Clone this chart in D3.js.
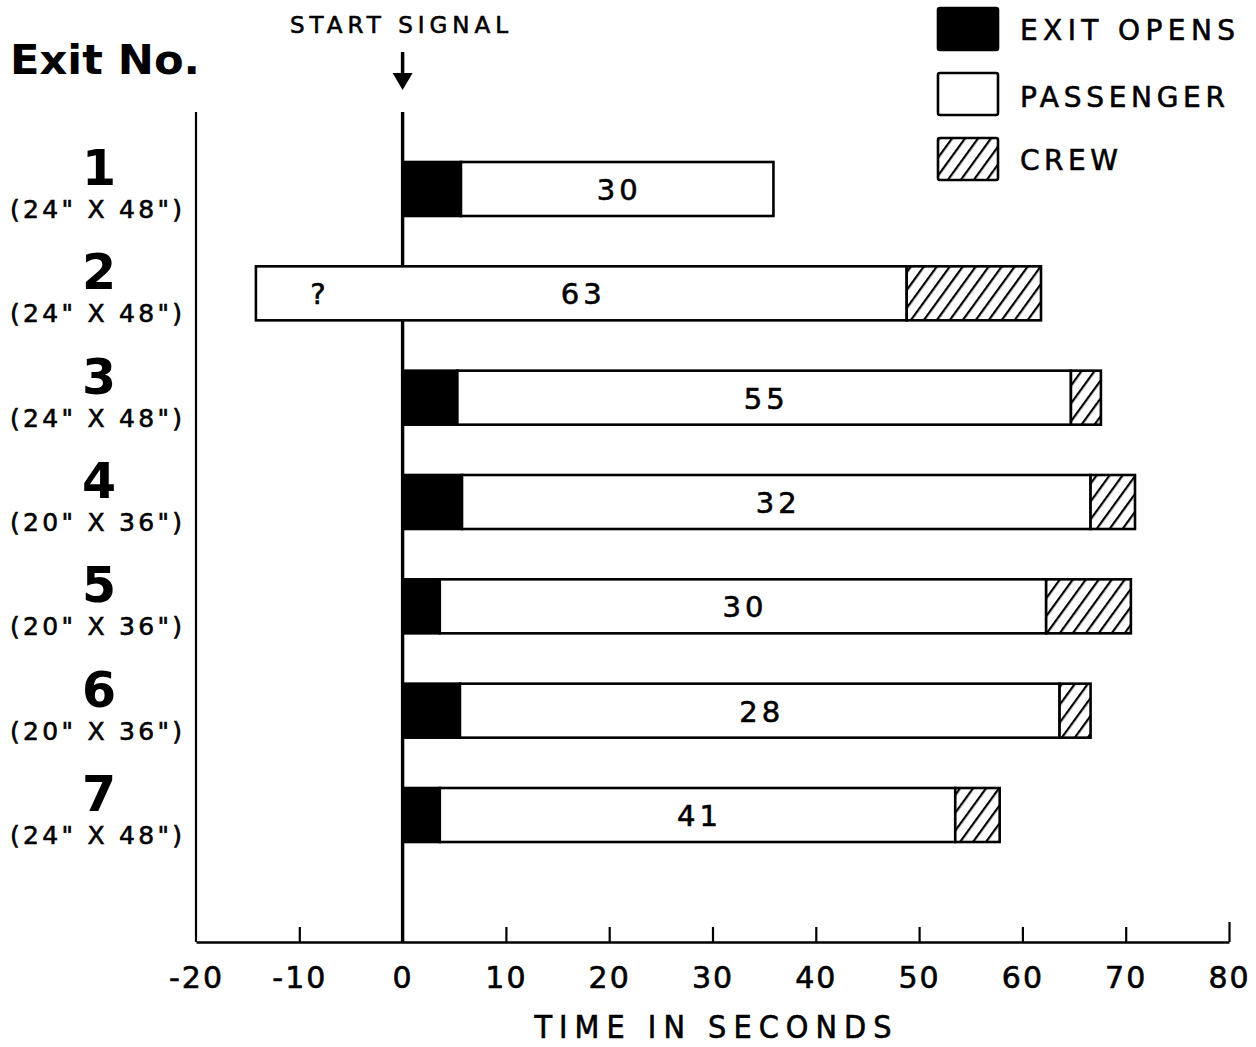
<!DOCTYPE html>
<html><head><meta charset="utf-8">
<script src="https://cdn.jsdelivr.net/npm/d3@7"></script>
<style>body{margin:0;background:#fff}svg{display:block}text{font-family:"DejaVu Sans",sans-serif;fill:#000}.th{stroke:#000;stroke-width:0.6px}</style>
</head><body><svg id="c" width="1256" height="1047"></svg>
<script>
const exits = ["1","2","3","4","5","6","7"];
const sizes = ['(24"  X 48")','(24"  X 48")','(24"  X 48")','(20"  X 36")','(20"  X 36")','(20"  X 36")','(24"  X 48")'];
const exitOpens = [5.65, null, 5.3, 5.75, 3.6, 5.55, 3.6];
const passengerStart = [5.65, -14.2, 5.3, 5.75, 3.6, 5.55, 3.6];
const passengerEnd = [35.9, 48.8, 64.7, 66.6, 62.3, 63.6, 53.5];
const crewEnd = [null, 61.8, 67.6, 70.9, 70.5, 66.6, 57.8];
const passengerCounts = ["30","63","55","32","30","28","41"];
const tickValues = [-20,-10,0,10,20,30,40,50,60,70,80];
const legendLabels = ["EXIT OPENS","PASSENGER","CREW"];

const svg = d3.select("#c");
const x = d3.scaleLinear().domain([-20,80]).range([196,1229]);
const y = d3.scalePoint().domain(exits).range([189,815]);
const barH = 54, axisY = 942, topY = 112;

// hatch pattern
const defs = svg.append("defs");
const pat = defs.append("pattern").attr("id","hatch").attr("patternUnits","userSpaceOnUse")
  .attr("width",10.5).attr("height",10.5).attr("patternTransform","rotate(36)");
pat.append("rect").attr("width",10.5).attr("height",10.5).attr("fill","#fff");
pat.append("line").attr("x1",1).attr("y1",0).attr("x2",1).attr("y2",10.5).attr("stroke","#000").attr("stroke-width",2.4);

// axes lines
svg.append("line").attr("x1",x(-20)).attr("x2",x(-20)).attr("y1",topY).attr("y2",axisY).attr("stroke","#000").attr("stroke-width",2.2);
const ax = d3.axisBottom(x).tickValues(tickValues).tickSize(-14).tickSizeOuter(0).tickPadding(25)
  .tickFormat(d=>String(d));
const gA = svg.append("g").attr("transform",`translate(0,${axisY})`).call(ax);
gA.select(".domain").attr("stroke","#000").attr("stroke-width",2.4);
gA.selectAll(".tick line").attr("stroke","#000").attr("stroke-width",2.2)
  .attr("y2",d=>d===80?-20:-15).attr("display",d=>(d===-20||d===0)?"none":null);
gA.selectAll(".tick text").attr("font-size",30).attr("font-family","DejaVu Sans").attr("fill","#000")
  .attr("letter-spacing",2).attr("class","th");
svg.append("text").attr("class","th").attr("x",713).attr("y",1038).attr("text-anchor","middle").attr("font-size",32)
  .style("font-family","'DejaVu Sans Condensed','DejaVu Sans',sans-serif")
  .attr("textLength",357).attr("lengthAdjust","spacing").text("TIME IN SECONDS");

// zero line
svg.append("line").attr("x1",x(0)).attr("x2",x(0)).attr("y1",topY).attr("y2",axisY).attr("stroke","#000").attr("stroke-width",3.4);

// start signal
svg.append("text").attr("class","th").attr("x",399).attr("y",33).attr("text-anchor","middle").attr("font-size",23)
  .attr("textLength",218).attr("lengthAdjust","spacing").text("START SIGNAL");
svg.append("line").attr("x1",x(0)).attr("x2",x(0)).attr("y1",52).attr("y2",76).attr("stroke","#000").attr("stroke-width",3.5);
svg.append("path").attr("d",`M${x(0)-10},73 L${x(0)+10},73 L${x(0)},90 Z`).attr("fill","#000");

// title
svg.append("text").attr("x",10).attr("y",74).attr("font-size",41).attr("font-weight","bold")
  .attr("textLength",190).attr("lengthAdjust","spacingAndGlyphs").text("Exit No.");

// y labels
exits.forEach((e,i)=>{
  svg.append("text").attr("x",99).attr("y",y(e)-4).attr("text-anchor","middle").attr("font-size",49).attr("font-weight","bold").text(e);
  svg.append("text").attr("class","th").attr("x",10).attr("y",y(e)+29).attr("font-size",25)
    .attr("textLength",172).attr("lengthAdjust","spacing").text(sizes[i]);
});

// bars
const g = svg.append("g");
exits.forEach((e,i)=>{
  const yc = y(e)-barH/2;
  if (exitOpens[i]!=null) {
    g.append("rect").attr("x",x(0)).attr("y",yc).attr("width",x(exitOpens[i])-x(0)).attr("height",barH)
      .attr("fill","#000").attr("stroke","#000").attr("stroke-width",2.6);
  }
  g.append("rect").attr("x",x(passengerStart[i])).attr("y",yc).attr("width",x(passengerEnd[i])-x(passengerStart[i])).attr("height",barH)
    .attr("fill","#fff").attr("stroke","#000").attr("stroke-width",2.6);
  if (crewEnd[i]!=null) {
    g.append("rect").attr("x",x(passengerEnd[i])).attr("y",yc).attr("width",x(crewEnd[i])-x(passengerEnd[i])).attr("height",barH)
      .attr("fill","url(#hatch)").attr("stroke","#000").attr("stroke-width",2.6);
  }
  g.append("text").attr("class","th").attr("x",(x(passengerStart[i])+x(passengerEnd[i]))/2+2).attr("y",y(e)+11)
    .attr("text-anchor","middle").attr("font-size",29).attr("letter-spacing",4).text(passengerCounts[i]);
});
// unknown start marker for exit 2
g.append("text").attr("class","th").attr("x",x(-8.2)).attr("y",y("2")+11).attr("text-anchor","middle").attr("font-size",29).text("?");

// legend
const lg = svg.append("g");
const fills = ["#000","#fff","url(#hatch)"];
const boxY = [8,73,138], textY = [40,107,170], textW = [215,205,98];
legendLabels.forEach((l,i)=>{
  lg.append("rect").attr("x",938).attr("y",boxY[i]).attr("width",60).attr("height",42).attr("rx",2)
    .attr("fill",fills[i]).attr("stroke","#000").attr("stroke-width",2.6);
  lg.append("text").attr("class","th").attr("x",1020).attr("y",textY[i]).attr("font-size",28)
    .attr("textLength",textW[i]).attr("lengthAdjust","spacing").text(l);
});
</script></body></html>
